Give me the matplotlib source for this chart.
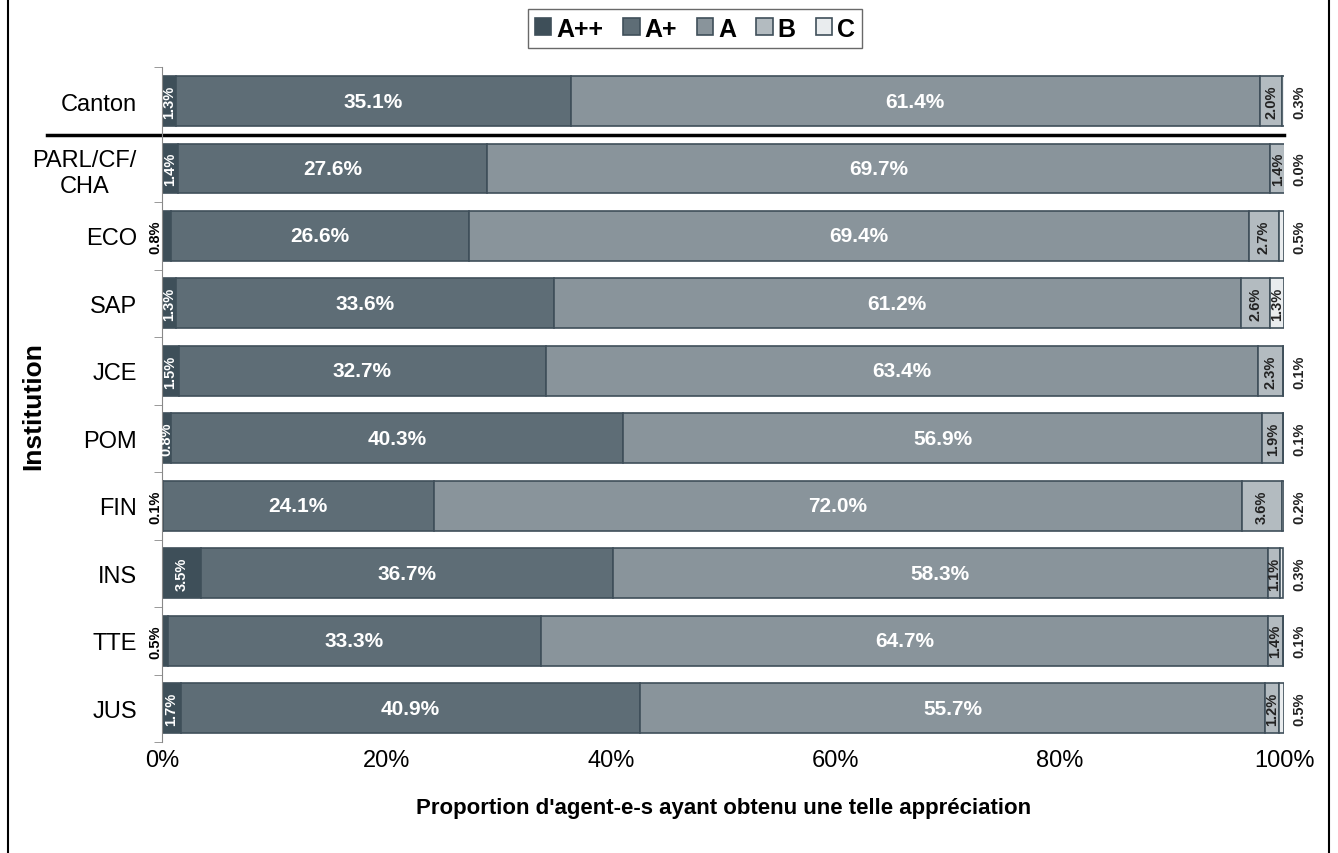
import matplotlib
matplotlib.use("Agg")
import matplotlib.pyplot as plt
import numpy as np

plt.rcParams['font.family'] = ['Liberation Sans', 'DejaVu Sans']

institutions = ["Canton", "PARL/CF/\nCHA", "ECO", "SAP", "JCE", "POM", "FIN", "INS", "TTE", "JUS"]
grades = ["A++", "A+", "A", "B", "C"]
a_pp = [1.3, 1.4, 0.8, 1.3, 1.5, 0.8, 0.1, 3.5, 0.5, 1.7]
a_p = [35.1, 27.6, 26.6, 33.6, 32.7, 40.3, 24.1, 36.7, 33.3, 40.9]
a = [61.4, 69.7, 69.4, 61.2, 63.4, 56.9, 72.0, 58.3, 64.7, 55.7]
b = [2.0, 1.4, 2.7, 2.6, 2.3, 1.9, 3.6, 1.1, 1.4, 1.2]
c = [0.3, 0.0, 0.5, 1.3, 0.1, 0.1, 0.2, 0.3, 0.1, 0.5]
# small A++ labels drawn inside the bar (True) or left of it (False)
a_pp_inside = [True, True, False, True, True, True, False, True, False, True]

colors = ["#3e4f59", "#5e6d76", "#89949b", "#b3bbc0", "#e9ecee"]
edge = "#3f4f5a"

fig = plt.figure(figsize=(13.38, 8.54), dpi=100)
ax = fig.add_axes([0.121, 0.13, 0.839, 0.79])

y = np.arange(len(institutions))
series = [a_pp, a_p, a, b, c]
left = np.zeros(len(y))
for vals, col, name in zip(series, colors, grades):
    ax.barh(y, vals, left=left, height=0.74, color=col, edgecolor=edge,
            linewidth=1.2, label=name)
    left = left + np.array(vals)

for i in range(len(y)):
    # A++
    v = a_pp[i]
    if a_pp_inside[i]:
        ax.text(v / 2, i, f"{v:.1f}%", rotation=90, ha="center", va="center",
                color="white", fontsize=10.5, fontweight="bold")
    else:
        ax.text(-0.6, i, f"{v:.1f}%", rotation=90, ha="center", va="center",
                color="black", fontsize=10.5, fontweight="bold", clip_on=False)
    # A+ and A
    ax.text(a_pp[i] + a_p[i] / 2, i, f"{a_p[i]:.1f}%", ha="center", va="center",
            color="white", fontsize=15, fontweight="bold")
    ax.text(a_pp[i] + a_p[i] + a[i] / 2, i, f"{a[i]:.1f}%", ha="center", va="center",
            color="white", fontsize=15, fontweight="bold")
    # B
    xb = a_pp[i] + a_p[i] + a[i] + b[i] / 2
    ax.text(xb, i, f"{b[i]:.1f}%", rotation=90, ha="center", va="center",
            color="#222222", fontsize=10.5, fontweight="bold")
    # C
    if c[i] >= 1.0:
        xc = 100 - c[i] / 2
    else:
        xc = 101.3
    ax.text(xc, i, f"{c[i]:.1f}%", rotation=90, ha="center", va="center",
            color="#222222", fontsize=10.5, fontweight="bold", clip_on=False)

ax.set_xlim(0, 100)
ax.set_ylim(len(y) - 0.5, -0.5)
ax.set_yticks(y)
ax.set_yticklabels(institutions, fontsize=17, linespacing=1.25, multialignment="center")
ax.set_yticks(np.arange(len(y) + 1) - 0.5, minor=True)
ax.tick_params(axis="y", which="major", length=0, pad=18)
ax.tick_params(axis="y", which="minor", length=6, color="#888888")
ax.set_xticks([0, 20, 40, 60, 80, 100])
ax.set_xticklabels(["0%", "20%", "40%", "60%", "80%", "100%"], fontsize=17)
ax.tick_params(axis="x", length=0, pad=5)
for s in ["top", "right", "bottom"]:
    ax.spines[s].set_visible(False)
ax.spines["left"].set_color("#888888")

ax.set_xlabel("Proportion d'agent-e-s ayant obtenu une telle appréciation",
              fontsize=16, fontweight="bold", labelpad=19)
ax.set_ylabel("Institution", fontsize=19, fontweight="bold")
ax.yaxis.set_label_coords(-0.104, 0.5)

# separator line under Canton
ax.plot([-10.2, 100], [0.5, 0.5], color="black", linewidth=2.5, clip_on=False)

leg = ax.legend(loc="lower center", bbox_to_anchor=(0.475, 1.01), ncol=5,
                frameon=True, fancybox=False, edgecolor="#444444",
                prop={"size": 18, "weight": "bold"}, handlelength=0.65,
                handleheight=0.65, handletextpad=0.2, columnspacing=0.8,
                borderpad=0.3)

# outer frame
fig.patches.append(plt.Rectangle((0.006, -0.01), 0.987, 1.02, transform=fig.transFigure,
                                 fill=False, edgecolor="black", linewidth=1.5))

fig.savefig("out.png", dpi=100)
